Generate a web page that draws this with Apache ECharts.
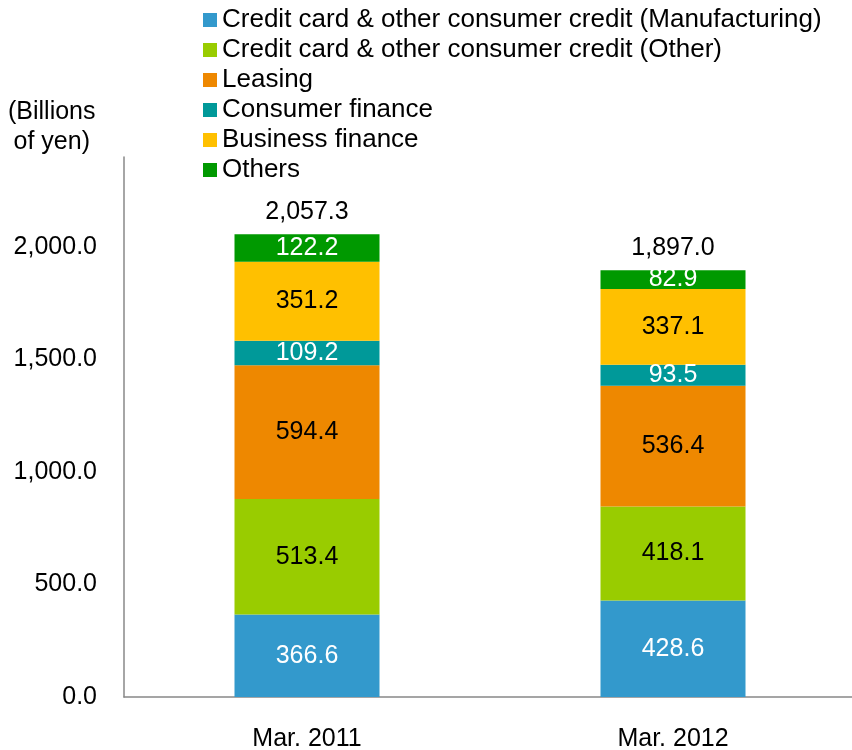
<!DOCTYPE html>
<html>
<head>
<meta charset="utf-8">
<script src="https://cdn.jsdelivr.net/npm/echarts@6/dist/echarts.min.js"></script>
<style>
  html, body { margin: 0; padding: 0; background: #fff; }
  #main { width: 852px; height: 750px; }
</style>
</head>
<body>
<div id="main"></div>
<script>
// data
var categories = ['Mar. 2011', 'Mar. 2012'];
var seriesNames = [
  'Credit card & other consumer credit (Manufacturing)',
  'Credit card & other consumer credit (Other)',
  'Leasing',
  'Consumer finance',
  'Business finance',
  'Others'
];
var manufacturing = [366.6, 428.6];
var otherCredit = [513.4, 418.1];
var leasing = [594.4, 536.4];
var consumerFinance = [109.2, 93.5];
var businessFinance = [351.2, 337.1];
var others = [122.2, 82.9];
var totals = [2057.3, 1897.0];
var yTicks = [0, 500, 1000, 1500, 2000];

var colors = ['#3399CC', '#99CC00', '#EE8800', '#009999', '#FFC000', '#009900'];
var labelColors = ['#fff', '#000', '#000', '#fff', '#000', '#fff'];
var values = [manufacturing, otherCredit, leasing, consumerFinance, businessFinance, others];
var FONT = '"Liberation Sans", Arial, sans-serif';
var SIZE = 25;

function fmt(v) {
  return Number(v).toLocaleString('en-US', { minimumFractionDigits: 1, maximumFractionDigits: 1 });
}

var chart = echarts.init(document.getElementById('main'));

var series = [];
for (var i = 0; i < seriesNames.length; i++) {
  series.push({
    name: seriesNames[i],
    type: 'bar',
    stack: 'all',
    barWidth: 145,
    data: values[i],
    itemStyle: { color: colors[i] },
    label: {
      show: true,
      position: 'inside',
      color: labelColors[i],
      fontFamily: FONT,
      fontSize: SIZE,
      formatter: function (p) { return fmt(p.value); }
    }
  });
}
// totals on top of the stack
series.push({
  name: 'total',
  type: 'bar',
  stack: 'all',
  barWidth: 145,
  silent: true,
  data: [0, 0],
  itemStyle: { color: 'transparent' },
  label: {
    show: true,
    position: 'top',
    distance: 10,
    color: '#000',
    fontFamily: FONT,
    fontSize: SIZE,
    formatter: function (p) { return fmt(totals[p.dataIndex]); }
  }
});

var option = {
  animation: false,
  textStyle: { fontFamily: FONT },
  legend: {
    data: seriesNames,
    orient: 'vertical',
    left: 203,
    top: 5,
    padding: 0,
    itemGap: 0,
    itemWidth: 14,
    itemHeight: 14,
    icon: 'rect',
    textStyle: { fontFamily: FONT, fontSize: 26, color: '#000', lineHeight: 30, height: 30 }
  },
  graphic: [{
    type: 'text',
    left: 8,
    top: 97,
    style: {
      text: '(Billions\nof yen)',
      textAlign: 'center',
      font: SIZE + 'px ' + FONT,
      lineHeight: 30,
      fill: '#000'
    }
  }],
  grid: {
    left: 124,
    top: 157,
    width: 732,
    bottom: 53,
    containLabel: false,
    outerBoundsMode: 'none'
  },
  xAxis: {
    type: 'category',
    data: categories,
    axisLine: { lineStyle: { color: '#888', width: 1.5 } },
    axisTick: { show: false },
    axisLabel: { color: '#000', fontSize: SIZE, fontFamily: FONT, margin: 30 }
  },
  yAxis: {
    type: 'value',
    min: 0,
    max: 2400,
    interval: 500,
    splitLine: { show: false },
    axisTick: { show: false },
    axisLine: { show: true, lineStyle: { color: '#888', width: 1.5 } },
    axisLabel: {
      color: '#000',
      fontSize: SIZE,
      fontFamily: FONT,
      margin: 27,
      showMaxLabel: false,
      formatter: function (v) { return yTicks.indexOf(v) >= 0 ? fmt(v) : ''; }
    }
  },
  series: series
};

chart.setOption(option);
</script>
</body>
</html>
